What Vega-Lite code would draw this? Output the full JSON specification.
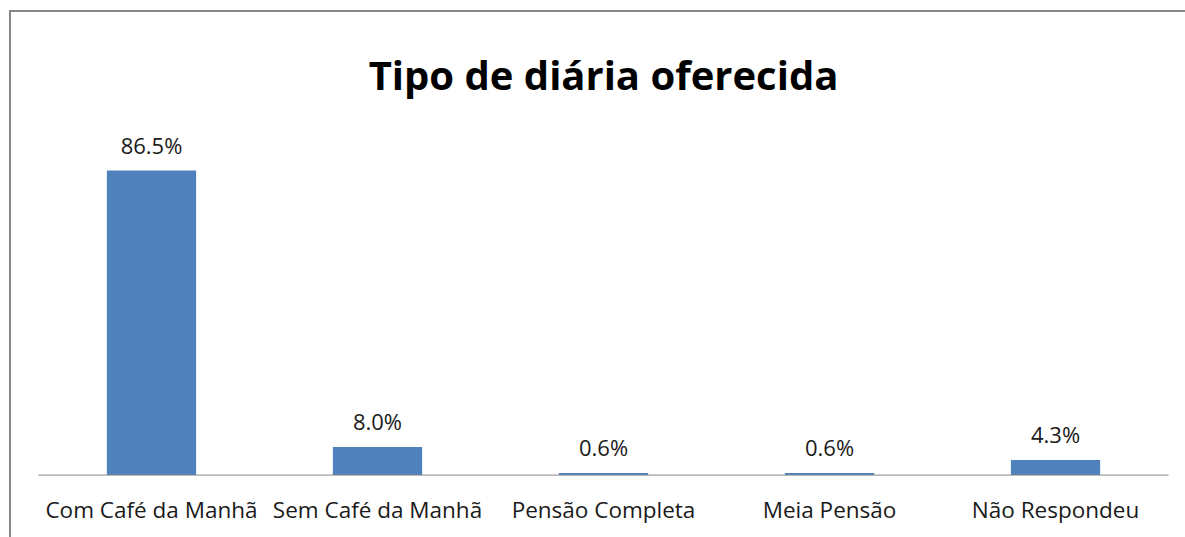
{
  "$schema": "https://vega.github.io/schema/vega-lite/v6.json",
  "autosize": {"type": "none"},
  "width": 1187,
  "height": 600,
  "padding": {"left": 10, "top": 11, "right": 0, "bottom": 0},
  "background": "white",
  "config": {
    "view": {"stroke": "#878787", "strokeWidth": 2},
    "font": "Open Sans"
  },
  "title": {
    "text": "Tipo de diária oferecida",
    "fontSize": 40,
    "fontWeight": "bold",
    "font": "Open Sans",
    "color": "#000000",
    "anchor": "middle",
    "offset": -87
  },
  "data": {
    "values": [
      {"tipo": "Com Café da Manhã", "pct": 0.865},
      {"tipo": "Sem Café da Manhã", "pct": 0.080},
      {"tipo": "Pensão Completa", "pct": 0.006},
      {"tipo": "Meia Pensão", "pct": 0.006},
      {"tipo": "Não Respondeu", "pct": 0.043}
    ]
  },
  "encoding": {
    "x": {
      "field": "tipo",
      "type": "nominal",
      "sort": null,
      "scale": {"paddingInner": 0, "paddingOuter": 0.126},
      "axis": {
        "title": null,
        "domain": false,
        "ticks": false,
        "labelAngle": 0,
        "labelFontSize": 22.5,
        "labelColor": "#1a1a1a",
        "labelPadding": 24,
        "offset": -136,
        "labelLimit": 400
      }
    }
  },
  "layer": [
    {
      "mark": {"type": "bar", "color": "#4F81BD", "width": {"band": 0.395}},
      "encoding": {
        "y": {
          "field": "pct",
          "type": "quantitative",
          "scale": {"domain": [-0.386, 1.318], "nice": false, "zero": false},
          "axis": null
        },
        "y2": {"datum": 0}
      }
    },
    {
      "mark": {"type": "rule", "color": "#868686", "strokeWidth": 1},
      "encoding": {
        "x": {"field": "tipo", "type": "nominal", "sort": null, "bandPosition": 0},
        "x2": {"field": "tipo", "bandPosition": 1},
        "y": {"datum": 0, "type": "quantitative"}
      }
    },
    {
      "mark": {"type": "text", "fontSize": 22, "color": "#1a1a1a", "baseline": "alphabetic", "dy": -17},
      "encoding": {
        "y": {"field": "pct", "type": "quantitative"},
        "text": {"field": "pct", "type": "quantitative", "format": ".1%"}
      }
    }
  ]
}
